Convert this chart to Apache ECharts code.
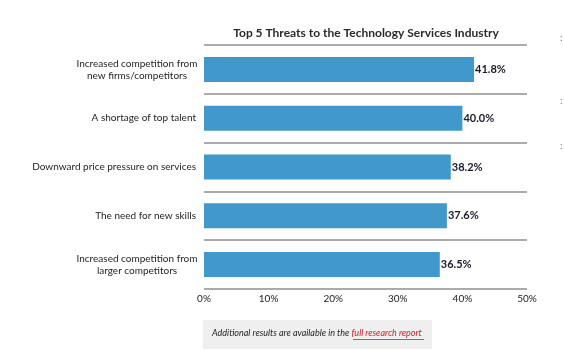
<!DOCTYPE html>
<html>
<head>
<meta charset="utf-8">
<script src="https://cdn.jsdelivr.net/npm/echarts@6/dist/echarts.min.js"></script>
<style>
  html, body { margin: 0; padding: 0; background: #fff; }
  #chart { width: 564px; height: 350px; }
</style>
</head>
<body>
<div id="chart"></div>
<script>
// threats, top to bottom
const threats = [
  'Increased competition from\nnew firms/competitors',
  'A shortage of top talent',
  'Downward price pressure on services',
  'The need for new skills',
  'Increased competition from\nlarger competitors'
];
const shares = [41.8, 40.0, 38.2, 37.6, 36.5];
const xTicks = [0, 10, 20, 30, 40, 50];

const font = 'Lato, "Open Sans", sans-serif';

let myChart = echarts.init(document.getElementById('chart'));
myChart.setOption({
  animation: false,
  title: {
    text: 'Top 5 Threats to the Technology Services Industry',
    left: 361,
    textAlign: 'center',
    top: 22,
    textStyle: { fontFamily: font, fontWeight: 'bold', fontSize: 12, color: '#2b2b2b' }
  },
  grid: { left: 204, right: 37, top: 45, bottom: 61 },
  xAxis: {
    type: 'value',
    min: xTicks[0],
    max: xTicks[xTicks.length - 1],
    interval: 10,
    axisLine: { show: false },
    axisTick: { show: false },
    splitLine: { show: false },
    axisLabel: {
      formatter: '{value}%',
      fontFamily: font,
      fontSize: 10,
      color: '#222',
      margin: 5
    }
  },
  yAxis: {
    type: 'category',
    inverse: true,
    data: threats,
    axisLine: { show: false },
    axisTick: { show: false },
    splitLine: { show: true, lineStyle: { color: '#8f8f8f', width: 1.5 } },
    axisLabel: {
      align: 'right',
      margin: 8,
      // two-line labels: lines centred on each other, block right-aligned
      formatter: v => v.indexOf('\n') >= 0 ? '{c|' + v + '}' : '{s|' + v + '}',
      rich: {
        c: { fontFamily: font, fontSize: 10, color: '#1e1e1e', lineHeight: 12, width: 118, align: 'center' },
        s: { fontFamily: font, fontSize: 10, color: '#1e1e1e', lineHeight: 12 }
      }
    }
  },
  series: [{
    type: 'bar',
    data: shares,
    barWidth: 25,
    itemStyle: { color: '#4199cb' },
    label: {
      show: true,
      position: 'right',
      distance: 1,
      formatter: p => p.value.toFixed(1) + '%',
      fontFamily: font,
      fontWeight: 'bold',
      fontSize: 11,
      color: '#1a1a2a'
    }
  }],
  graphic: [
    { type: 'rect', left: 203, top: 320, shape: { width: 229, height: 29 }, style: { fill: '#efefef' } },
    {
      type: 'text', left: 212, top: 329,
      style: {
        rich: {
          a: { fontFamily: font, fontStyle: 'italic', fontSize: 9, fill: '#1e1e1e' },
          b: { fontFamily: font, fontStyle: 'italic', fontSize: 9, fill: '#d0202a' }
        },
        text: '{a|Additional results are available in the }{b|full research report}'
      }
    },
    { type: 'line', shape: { x1: 353, y1: 339.5, x2: 424, y2: 339.5 }, style: { stroke: '#d0202a', lineWidth: 0.8 } },
    { type: 'text', left: 560, top: 33, style: { text: ':', fill: '#d0604f', fontSize: 10, fontFamily: font } },
    { type: 'text', left: 560, top: 96, style: { text: ':', fill: '#d0604f', fontSize: 10, fontFamily: font } },
    { type: 'text', left: 560, top: 141, style: { text: ':', fill: '#d0604f', fontSize: 10, fontFamily: font } }
  ]
});
</script>
</body>
</html>
